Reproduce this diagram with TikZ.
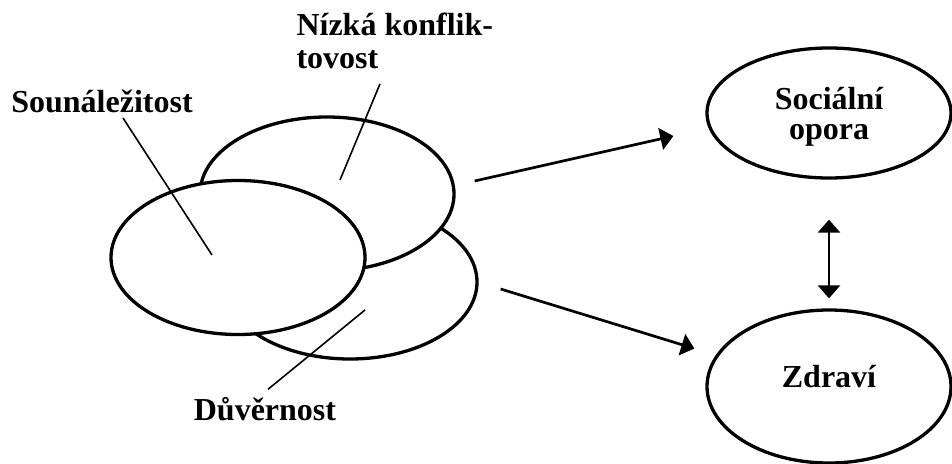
\documentclass[tikz,border=0pt]{standalone}
\usepackage{fontspec}
\setmainfont{Liberation Serif}
\usetikzlibrary{arrows.meta,shapes.geometric}

\begin{document}
\begin{tikzpicture}[x=1pt, y=-1pt, >={Triangle[width=22pt,length=13pt]},
   font=\fontsize{32}{33}\selectfont\bfseries,
   oval/.style={draw, ellipse, line width=3.3pt, fill=white, inner sep=0pt,
                minimum width=254pt, minimum height=154pt},
   goal/.style={draw, ellipse, line width=3.3pt, inner sep=0pt, minimum width=244pt},
   pin/.style={line width=1.6pt},
   arr/.style={->, line width=2.7pt}]
  \useasboundingbox (0,0) rectangle (952,463);

  % three overlapping ovals, back to front
  \node[oval] (duv) at (350,282) {};
  \node[oval] (niz) at (327,194) {};
  \node[oval] (soun) at (238,257.5) {};

  % their labels
  \node[anchor=base] (soun-lbl) at (102,112) {Sounáležitost};
  \node[anchor=base west, align=left] (niz-lbl) at (293,68) {Nízká konflik-\\tovost};
  \node[anchor=base] (duv-lbl) at (265,420) {Důvěrnost};

  \coordinate (soun-pin) at (212,255);
  \coordinate (niz-pin) at (340,180);
  \coordinate (duv-pin) at (365,310);
  \draw[pin] ([xshift=21pt,yshift=-6pt]soun-lbl.base) -- (soun-pin);
  \draw[pin] ([xshift=87pt,yshift=-12pt]niz-lbl.south west) -- (niz-pin);
  \draw[pin] ([xshift=3pt,yshift=4pt]duv-lbl.north) -- (duv-pin);

  % outcomes
  \node[goal, minimum height=130pt, align=center, text depth=0pt,
        font=\fontsize{32}{30}\selectfont\bfseries] (soc) at (829,113) {Sociální\\opora};
  \node[goal, minimum height=153pt, text height=22pt, text depth=21pt] (zdr) at (829,386.5) {Zdraví};

  \draw[arr] ([xshift=19pt,yshift=13pt]niz.east) -- ([xshift=-32pt,yshift=-23pt]soc.west);
  \draw[arr] ([xshift=22pt,yshift=-7pt]duv.east) -- ([xshift=-11pt,yshift=38pt]zdr.west);
  \draw[arr, <->, shorten <=40pt, shorten >=10pt] (soc) -- (zdr);
\end{tikzpicture}
\end{document}
